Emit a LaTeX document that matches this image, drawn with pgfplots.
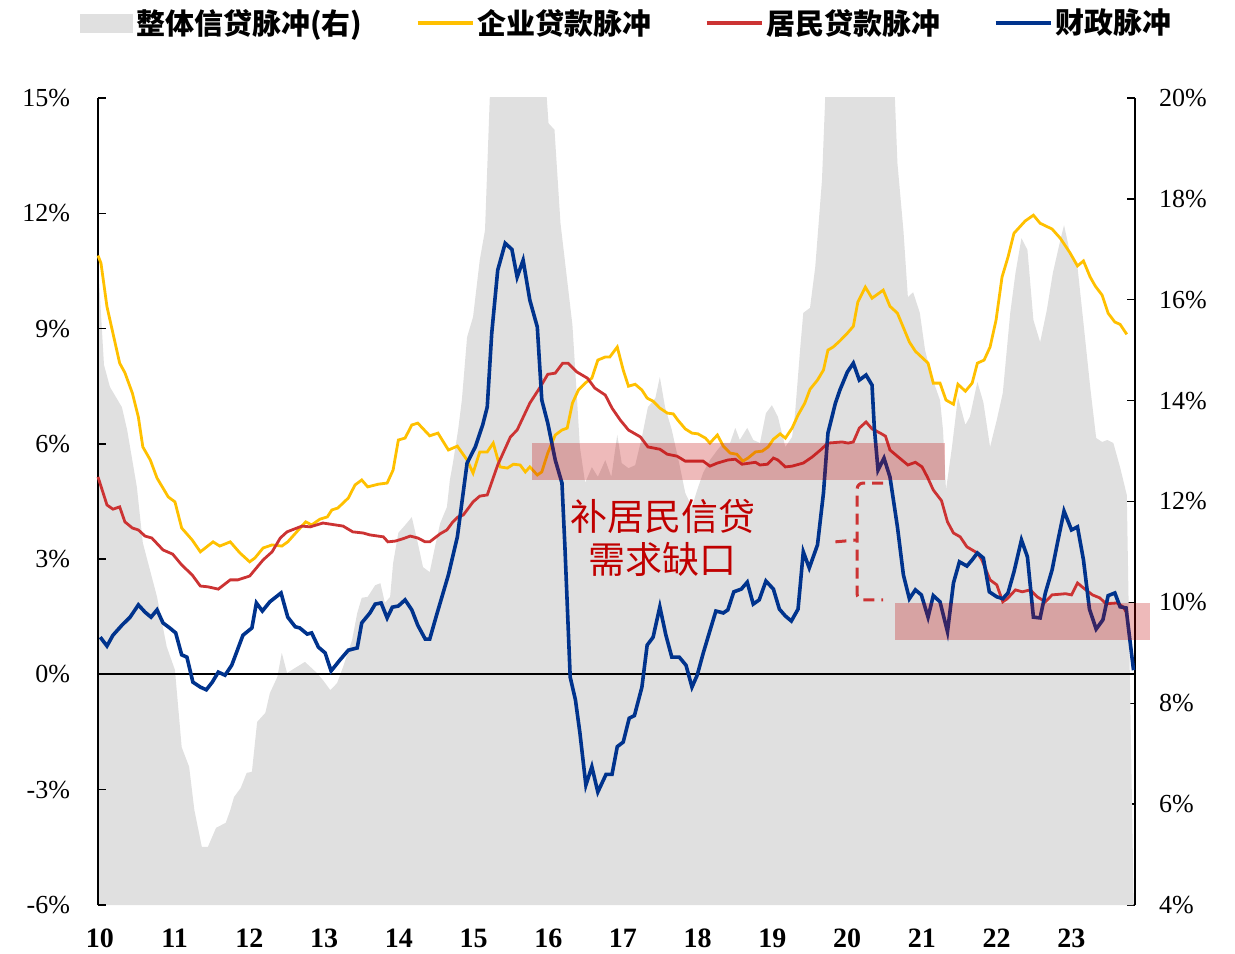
\documentclass[border=0pt]{standalone}
\usepackage{pgfplots}
\pgfplotsset{compat=1.18}
\usepackage{pgfplotstable}
\usepackage{fontspec}
\setmainfont{Liberation Serif}
\newfontfamily\cjk{Noto Sans CJK SC}
\definecolor{cyel}{RGB}{255,192,0}
\definecolor{cred}{RGB}{204,51,51}
\definecolor{cblue}{RGB}{0,51,141}
\definecolor{cgray}{RGB}{224,224,224}
\definecolor{cann}{RGB}{192,0,0}

\pgfplotstableread{
x y
10.00 16.73
10.08 14.71
10.16 14.27
10.32 13.87
10.39 13.42
10.52 12.29
10.60 11.18
10.79 10.11
10.92 9.12
11.03 8.66
11.12 7.13
11.22 6.74
11.29 5.88
11.39 5.15
11.47 5.15
11.58 5.53
11.71 5.63
11.77 5.88
11.82 6.14
11.91 6.32
11.99 6.62
12.06 6.64
12.13 7.63
12.24 7.81
12.30 8.20
12.40 8.52
12.46 9.00
12.53 8.60
12.66 8.72
12.77 8.82
12.93 8.60
13.01 8.46
13.11 8.26
13.20 8.40
13.28 8.72
13.40 9.25
13.47 9.79
13.53 10.09
13.61 10.11
13.71 10.34
13.78 10.38
13.84 9.99
13.91 10.11
13.95 10.78
14.02 11.38
14.11 11.53
14.20 11.69
14.28 11.18
14.35 10.70
14.44 10.60
14.51 11.10
14.58 11.57
14.67 11.89
14.71 12.43
14.75 12.76
14.82 13.42
14.87 14.01
14.94 15.26
15.02 15.66
15.11 16.79
15.18 17.38
15.28 21.50
15.50 22.00
15.80 22.00
15.96 21.00
16.03 19.50
16.11 19.37
16.19 17.52
16.35 15.50
16.41 14.07
16.45 13.08
16.52 12.37
16.61 12.68
16.69 12.49
16.79 12.82
16.87 12.49
16.95 13.32
17.01 12.76
17.10 12.66
17.19 12.72
17.28 13.28
17.36 13.87
17.46 14.05
17.52 14.47
17.59 13.87
17.68 13.42
17.79 12.68
17.86 12.17
17.95 11.89
18.02 12.23
18.10 12.57
18.19 12.82
18.29 13.02
18.37 13.16
18.46 13.16
18.53 13.46
18.59 13.22
18.69 13.46
18.77 13.22
18.86 13.16
18.94 13.75
19.02 13.91
19.10 13.68
19.20 13.08
19.29 13.28
19.33 13.75
19.40 15.06
19.44 15.74
19.53 15.84
19.60 16.65
19.69 18.37
19.76 21.00
20.00 23.00
20.40 23.00
20.64 21.00
20.70 18.71
20.78 17.38
20.84 16.05
20.91 16.15
21.00 15.74
21.07 15.00
21.16 14.47
21.27 14.01
21.31 13.42
21.35 12.23
21.43 13.08
21.51 14.07
21.61 13.52
21.67 13.68
21.77 14.37
21.85 13.97
21.94 13.08
22.03 13.62
22.11 14.15
22.21 15.74
22.28 16.53
22.36 17.22
22.44 16.99
22.52 15.60
22.61 15.16
22.70 15.80
22.78 16.53
22.88 17.18
22.93 17.48
23.01 16.93
23.11 16.65
23.19 15.54
23.28 14.27
23.36 13.26
23.44 13.18
23.51 13.22
23.59 13.16
23.68 12.68
23.77 12.13
23.86 4.20
}\graytab

\pgfplotstableread{
x y
10.00 10.90
10.04 10.70
10.12 9.57
10.29 8.10
10.36 7.85
10.46 7.32
10.54 6.70
10.60 5.92
10.70 5.58
10.79 5.11
10.94 4.62
11.03 4.49
11.12 3.81
11.26 3.50
11.37 3.19
11.54 3.45
11.63 3.34
11.77 3.45
11.90 3.16
12.03 2.93
12.10 3.03
12.21 3.29
12.33 3.37
12.46 3.34
12.54 3.45
12.66 3.71
12.78 3.97
12.86 3.89
12.97 4.04
13.07 4.10
13.13 4.28
13.21 4.33
13.35 4.59
13.44 4.93
13.53 5.06
13.61 4.88
13.75 4.95
13.87 4.98
13.95 5.32
14.02 6.10
14.11 6.15
14.20 6.49
14.28 6.54
14.44 6.21
14.55 6.28
14.69 5.84
14.81 5.94
14.94 5.58
15.02 5.24
15.11 5.79
15.21 5.79
15.29 6.02
15.38 5.40
15.48 5.37
15.56 5.47
15.65 5.45
15.72 5.27
15.78 5.40
15.88 5.19
15.94 5.27
16.02 5.76
16.12 6.23
16.21 6.36
16.28 6.41
16.35 7.06
16.43 7.40
16.52 7.58
16.61 7.71
16.69 8.18
16.79 8.26
16.85 8.26
16.95 8.52
17.03 7.92
17.10 7.50
17.19 7.55
17.28 7.40
17.35 7.19
17.43 7.11
17.52 6.93
17.62 6.80
17.70 6.78
17.76 6.62
17.86 6.39
17.95 6.28
18.03 6.26
18.13 6.15
18.19 6.02
18.29 6.23
18.37 5.94
18.46 5.76
18.55 5.73
18.63 5.55
18.70 5.63
18.80 5.79
18.89 5.81
18.97 5.92
19.04 6.12
19.13 6.26
19.20 6.15
19.29 6.41
19.37 6.75
19.46 7.06
19.53 7.42
19.63 7.66
19.71 7.92
19.77 8.44
19.84 8.52
19.93 8.68
20.03 8.88
20.11 9.06
20.17 9.69
20.27 10.08
20.36 9.79
20.51 10.00
20.60 9.58
20.70 9.40
20.86 8.65
20.94 8.41
21.11 8.10
21.18 7.58
21.27 7.58
21.35 7.14
21.45 7.03
21.51 7.55
21.61 7.37
21.70 7.58
21.77 8.10
21.86 8.18
21.94 8.52
22.02 9.22
22.10 10.34
22.18 10.86
22.26 11.48
22.41 11.80
22.52 11.95
22.61 11.74
22.77 11.59
22.88 11.35
23.01 10.97
23.11 10.63
23.19 10.76
23.28 10.34
23.35 10.10
23.44 9.87
23.52 9.40
23.61 9.17
23.68 9.11
23.77 8.85
}\yeltab

\pgfplotstableread{
x y
10.00 5.14
10.12 4.41
10.20 4.30
10.29 4.36
10.36 3.97
10.46 3.81
10.54 3.76
10.63 3.60
10.72 3.55
10.87 3.24
11.00 3.13
11.12 2.85
11.26 2.59
11.37 2.30
11.47 2.28
11.61 2.22
11.77 2.46
11.87 2.46
12.03 2.56
12.21 2.98
12.33 3.19
12.44 3.55
12.53 3.71
12.73 3.86
12.84 3.84
13.01 3.94
13.28 3.86
13.41 3.71
13.55 3.68
13.64 3.63
13.82 3.58
13.88 3.45
13.98 3.47
14.08 3.53
14.18 3.60
14.28 3.55
14.38 3.45
14.44 3.45
14.58 3.66
14.67 3.76
14.75 3.97
14.82 4.10
14.89 4.15
15.02 4.49
15.11 4.64
15.21 4.67
15.35 5.45
15.52 6.18
15.61 6.36
15.78 7.06
15.92 7.48
16.02 7.81
16.12 7.84
16.22 8.10
16.29 8.10
16.41 7.87
16.55 7.71
16.65 7.45
16.79 7.27
16.88 6.93
16.99 6.62
17.10 6.36
17.26 6.18
17.36 5.92
17.52 5.86
17.62 5.73
17.75 5.68
17.86 5.55
18.10 5.55
18.19 5.42
18.29 5.50
18.43 5.58
18.53 5.60
18.62 5.47
18.80 5.52
18.86 5.45
18.96 5.47
19.04 5.63
19.10 5.58
19.20 5.40
19.29 5.42
19.44 5.50
19.56 5.66
19.67 5.84
19.77 6.02
19.96 6.05
20.04 6.02
20.11 6.05
20.19 6.41
20.28 6.57
20.36 6.39
20.47 6.28
20.54 6.20
20.60 5.84
20.71 5.66
20.84 5.45
20.94 5.52
21.03 5.40
21.10 5.14
21.18 4.80
21.29 4.52
21.37 3.97
21.45 3.68
21.54 3.58
21.63 3.32
21.77 3.16
21.83 2.98
21.94 2.46
22.03 2.33
22.11 1.89
22.17 1.97
22.28 2.20
22.37 2.15
22.48 2.20
22.57 2.02
22.68 1.89
22.77 2.07
22.95 2.10
23.03 2.07
23.11 2.38
23.19 2.25
23.31 2.07
23.41 1.99
23.49 1.84
23.64 1.86
23.72 1.76
23.76 1.63
}\redtab

\pgfplotstableread{
x y
10.03 0.97
10.12 0.74
10.20 1.02
10.32 1.28
10.43 1.49
10.54 1.81
10.63 1.62
10.71 1.49
10.79 1.68
10.87 1.34
10.96 1.21
11.04 1.08
11.12 0.51
11.19 0.45
11.27 -0.20
11.37 -0.33
11.45 -0.40
11.53 -0.20
11.61 0.06
11.70 -0.02
11.79 0.24
11.94 1.02
12.06 1.21
12.12 1.86
12.20 1.65
12.30 1.89
12.45 2.12
12.54 1.49
12.64 1.24
12.70 1.21
12.80 1.05
12.86 1.08
12.95 0.71
13.04 0.56
13.12 0.09
13.24 0.38
13.35 0.63
13.47 0.69
13.53 1.34
13.64 1.60
13.71 1.83
13.79 1.86
13.87 1.47
13.94 1.75
14.02 1.78
14.11 1.94
14.20 1.68
14.28 1.28
14.38 0.92
14.44 0.92
14.54 1.60
14.69 2.59
14.81 3.58
14.94 5.50
15.05 5.92
15.15 6.50
15.21 6.96
15.27 8.88
15.35 10.52
15.45 11.22
15.54 11.06
15.61 10.34
15.69 10.78
15.78 9.74
15.88 9.04
15.94 7.14
16.02 6.54
16.12 5.58
16.21 4.98
16.25 3.30
16.32 -0.07
16.39 -0.66
16.45 -1.52
16.53 -2.88
16.61 -2.40
16.69 -3.06
16.80 -2.60
16.88 -2.60
16.95 -1.88
17.03 -1.76
17.11 -1.14
17.18 -1.07
17.28 -0.33
17.35 0.76
17.43 0.97
17.52 1.76
17.60 1.03
17.68 0.45
17.78 0.45
17.87 0.24
17.95 -0.33
18.02 -0.02
18.10 0.55
18.18 1.07
18.27 1.65
18.37 1.60
18.43 1.68
18.51 2.15
18.61 2.22
18.69 2.40
18.77 1.83
18.85 1.94
18.94 2.43
19.04 2.22
19.12 1.70
19.20 1.52
19.28 1.39
19.37 1.70
19.44 3.19
19.52 2.77
19.63 3.37
19.71 4.72
19.77 6.28
19.87 7.06
19.93 7.40
20.03 7.87
20.11 8.10
20.19 7.66
20.28 7.79
20.36 7.53
20.39 6.44
20.44 5.32
20.52 5.63
20.60 5.14
20.70 3.84
20.78 2.59
20.86 1.97
20.94 2.20
21.02 2.07
21.11 1.49
21.18 2.05
21.27 1.89
21.37 1.11
21.45 2.38
21.53 2.93
21.63 2.82
21.70 2.98
21.77 3.16
21.85 3.03
21.93 2.15
22.03 2.02
22.11 1.97
22.18 2.12
22.26 2.67
22.36 3.50
22.44 3.06
22.52 1.49
22.61 1.47
22.68 2.12
22.77 2.72
22.85 3.50
22.93 4.25
23.03 3.76
23.11 3.84
23.19 2.98
23.27 1.70
23.36 1.18
23.45 1.42
23.52 2.05
23.61 2.12
23.68 1.76
23.76 1.73
23.86 0.11
}\bluetab

\begin{document}
\begin{tikzpicture}
\path[use as bounding box] (0,0) rectangle (617.5pt,476.5pt);
% right axis: overall credit impulse
\begin{axis}[
  at={(49pt,24pt)}, anchor=south west,
  scale only axis, width=518.5pt, height=403.5pt,
  xmin=10, xmax=23.88, ymin=4, ymax=20,
  axis x line=none, axis y line*=right,
  y axis line style={-, line width=0.75pt},
  ytick={4,6,8,10,12,14,16,18,20},
  yticklabels={4\%,6\%,8\%,10\%,12\%,14\%,16\%,18\%,20\%},
  tick align=inside, major tick length=4pt,
  ytick style={line width=0.75pt, black},
  yticklabel style={font=\fontsize{13}{15}\selectfont, xshift=8.5pt},
]
\addplot[fill=cgray, draw=none] table {\graytab} \closedcycle;
\end{axis}
% left axis
\begin{axis}[
  at={(49pt,24pt)}, anchor=south west,
  scale only axis, width=518.5pt, height=403.5pt,
  xmin=10, xmax=23.88, ymin=-6, ymax=15,
  axis y line*=left, axis x line*=bottom,
  x axis line style={draw=none},
  y axis line style={-, line width=0.75pt},
  xtick={10,11,12,13,14,15,16,17,18,19,20,21,22,23},
  xticklabels={10,11,12,13,14,15,16,17,18,19,20,21,22,23},
  xtick style={draw=none},
  xticklabel style={font=\bfseries\fontsize{14}{16}\selectfont, yshift=-8.5pt, xshift=1pt},
  ytick={-6,-3,0,3,6,9,12,15},
  yticklabels={-6\%,-3\%,0\%,3\%,6\%,9\%,12\%,15\%},
  tick align=inside, major tick length=4pt,
  ytick style={line width=0.75pt, black},
  yticklabel style={font=\fontsize{13}{15}\selectfont, xshift=-10.5pt},
  clip=false,
  legend style={at={(axis description cs:0.5106,1.0929)}, anchor=center,
    draw=none, fill=none, legend columns=4,
    font=\cjk\bfseries\fontsize{14.5}{17}\selectfont,
    nodes={inner xsep=1.5pt},
    /tikz/every even column/.append style={column sep=25pt}},
]
\addlegendimage{legend image code/.code={\fill[cgray] (0pt,-4.5pt) rectangle (26pt,4.5pt);}}
\addlegendentry{整体信贷脉冲(右)}
\addlegendimage{legend image code/.code={\draw[cyel, line width=2pt] (0pt,0pt) -- (27.5pt,0pt);}}
\addlegendentry{企业贷款脉冲}
\addlegendimage{legend image code/.code={\draw[cred, line width=2pt] (0pt,0pt) -- (27.5pt,0pt);}}
\addlegendentry{居民贷款脉冲}
\addlegendimage{legend image code/.code={\draw[cblue, line width=2pt] (0pt,0pt) -- (27.5pt,0pt);}}
\addlegendentry{财政脉冲}

\addplot[black, line width=1pt, forget plot] coordinates {(10,0) (23.88,0)};
\addplot[cyel, line width=1.4pt, forget plot] table {\yeltab};
\addplot[cred, line width=1.4pt, forget plot] table {\redtab};
\addplot[cblue, line width=1.8pt, forget plot] table {\bluetab};

\fill[cann, opacity=0.27] (axis cs:15.81,5.06) rectangle (axis cs:21.33,6.02);
\fill[cann, opacity=0.27] (axis cs:20.67,0.90) rectangle (axis cs:24.08,1.86);

\draw[cred, line width=1.5pt, dash pattern=on 5.5pt off 3.5pt, rounded corners=3pt]
  (axis cs:20.51,4.98) -- (axis cs:20.16,4.98) -- (axis cs:20.16,1.94) -- (axis cs:20.51,1.94);
\draw[cred, line width=1.5pt, dash pattern=on 5.5pt off 3.5pt]
  (axis cs:19.87,3.45) -- (axis cs:20.16,3.50);

\node[text=cann, font=\cjk\fontsize{18.5}{21.5}\selectfont, align=center]
  at (axis cs:17.56,3.54) {补居民信贷\\需求缺口};
\end{axis}
\node[anchor=east, font=\fontsize{13}{15}\selectfont] at (4pt,176.5pt) {\%};
\node[anchor=east, font=\fontsize{13}{15}\selectfont] at (4pt,119pt) {\%};
\node[anchor=east, font=\fontsize{13}{15}\selectfont] at (4pt,61.5pt) {\%};
\end{tikzpicture}
\end{document}
